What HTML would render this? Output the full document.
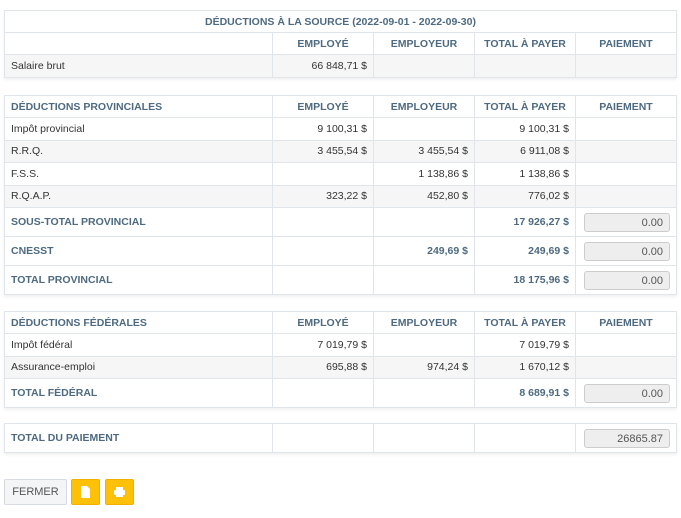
<!DOCTYPE html>
<html><head><meta charset="utf-8"><style>
body{margin:0;width:681px;height:518px;background:#fff;font-family:"Liberation Sans",Arial,sans-serif;font-size:10.5px;color:#333;position:relative;overflow:hidden}
table{position:absolute;left:4px;width:673px;border-collapse:collapse;table-layout:fixed;box-shadow:0 2px 3px rgba(0,0,0,0.06)}
td,th{border:1px solid #dfe5ea;padding:0 6px;white-space:nowrap}
th{color:#4d6a80;font-weight:bold;font-size:10.5px;text-align:center}
th.l{text-align:left}
td{text-align:right}
td.l{text-align:left}
tr.g td{background:#f6f6f6}
tr.h{height:22px}
tr.r{height:22.5px}
tr.b{height:29px}
.bl{color:#4d6a80;font-weight:bold}
.inp{display:inline-block;width:78px;height:19px;line-height:19px;border:1px solid #ccc;border-radius:3px;background:#eee;text-align:right;padding-right:6px;color:#555;font-size:11px;box-sizing:border-box;width:86px}
.btn{position:absolute;top:479px;height:26px;border-radius:2px;box-sizing:border-box}
</style></head><body>
<table style="top:10px"><colgroup><col style="width:268px"><col style="width:101px"><col style="width:101px"><col style="width:101px"><col></colgroup>
<tr class="h"><th colspan="5">DÉDUCTIONS À LA SOURCE (2022-09-01 - 2022-09-30)</th></tr>
<tr class="h"><th></th><th>EMPLOYÉ</th><th>EMPLOYEUR</th><th>TOTAL À PAYER</th><th>PAIEMENT</th></tr>
<tr class="r g"><td class="l">Salaire brut</td><td>66 848,71 $</td><td></td><td></td><td></td></tr>
</table>
<table style="top:95px"><colgroup><col style="width:268px"><col style="width:101px"><col style="width:101px"><col style="width:101px"><col></colgroup>
<tr class="h"><th class="l">DÉDUCTIONS PROVINCIALES</th><th>EMPLOYÉ</th><th>EMPLOYEUR</th><th>TOTAL À PAYER</th><th>PAIEMENT</th></tr>
<tr class="r"><td class="l">Impôt provincial</td><td>9 100,31 $</td><td></td><td>9 100,31 $</td><td></td></tr>
<tr class="r g"><td class="l">R.R.Q.</td><td>3 455,54 $</td><td>3 455,54 $</td><td>6 911,08 $</td><td></td></tr>
<tr class="r"><td class="l">F.S.S.</td><td></td><td>1 138,86 $</td><td>1 138,86 $</td><td></td></tr>
<tr class="r g"><td class="l">R.Q.A.P.</td><td>323,22 $</td><td>452,80 $</td><td>776,02 $</td><td></td></tr>
<tr class="b"><td class="l bl">SOUS-TOTAL PROVINCIAL</td><td></td><td></td><td class="bl">17 926,27 $</td><td><span class="inp">0.00</span></td></tr>
<tr class="b"><td class="l bl">CNESST</td><td></td><td class="bl">249,69 $</td><td class="bl">249,69 $</td><td><span class="inp">0.00</span></td></tr>
<tr class="b"><td class="l bl">TOTAL PROVINCIAL</td><td></td><td></td><td class="bl">18 175,96 $</td><td><span class="inp">0.00</span></td></tr>
</table>
<table style="top:311px"><colgroup><col style="width:268px"><col style="width:101px"><col style="width:101px"><col style="width:101px"><col></colgroup>
<tr class="h"><th class="l">DÉDUCTIONS FÉDÉRALES</th><th>EMPLOYÉ</th><th>EMPLOYEUR</th><th>TOTAL À PAYER</th><th>PAIEMENT</th></tr>
<tr class="r"><td class="l">Impôt fédéral</td><td>7 019,79 $</td><td></td><td>7 019,79 $</td><td></td></tr>
<tr class="r g"><td class="l">Assurance-emploi</td><td>695,88 $</td><td>974,24 $</td><td>1 670,12 $</td><td></td></tr>
<tr class="b"><td class="l bl">TOTAL FÉDÉRAL</td><td></td><td></td><td class="bl">8 689,91 $</td><td><span class="inp">0.00</span></td></tr>
</table>
<table style="top:423px"><colgroup><col style="width:268px"><col style="width:101px"><col style="width:101px"><col style="width:101px"><col></colgroup>
<tr class="b"><td class="l bl">TOTAL DU PAIEMENT</td><td></td><td></td><td></td><td><span class="inp">26865.87</span></td></tr>
</table>
<div class="btn" style="left:4px;width:63px;border:1px solid #d5dbe0;background:#f3f5f7;color:#555;font-size:11px;text-align:center;line-height:24px">FERMER</div>
<div class="btn" style="left:71px;width:29px;background:#ffc107;border:1px solid #f0b000">
<svg width="29" height="26" viewBox="0 0 29 26" style="position:absolute;left:-1px;top:-1px"><path d="M10 7h6l3 3v9h-9z" fill="#fff"/></svg></div>
<div class="btn" style="left:105px;width:29px;background:#ffc107;border:1px solid #f0b000">
<svg width="29" height="26" viewBox="0 0 29 26" style="position:absolute;left:-1px;top:-1px"><rect x="11" y="8" width="7" height="3" fill="#fff"/><rect x="9" y="11" width="11" height="5" rx="1" fill="#fff"/><rect x="11" y="15" width="7" height="3" fill="#fff"/></svg></div>
</body></html>
